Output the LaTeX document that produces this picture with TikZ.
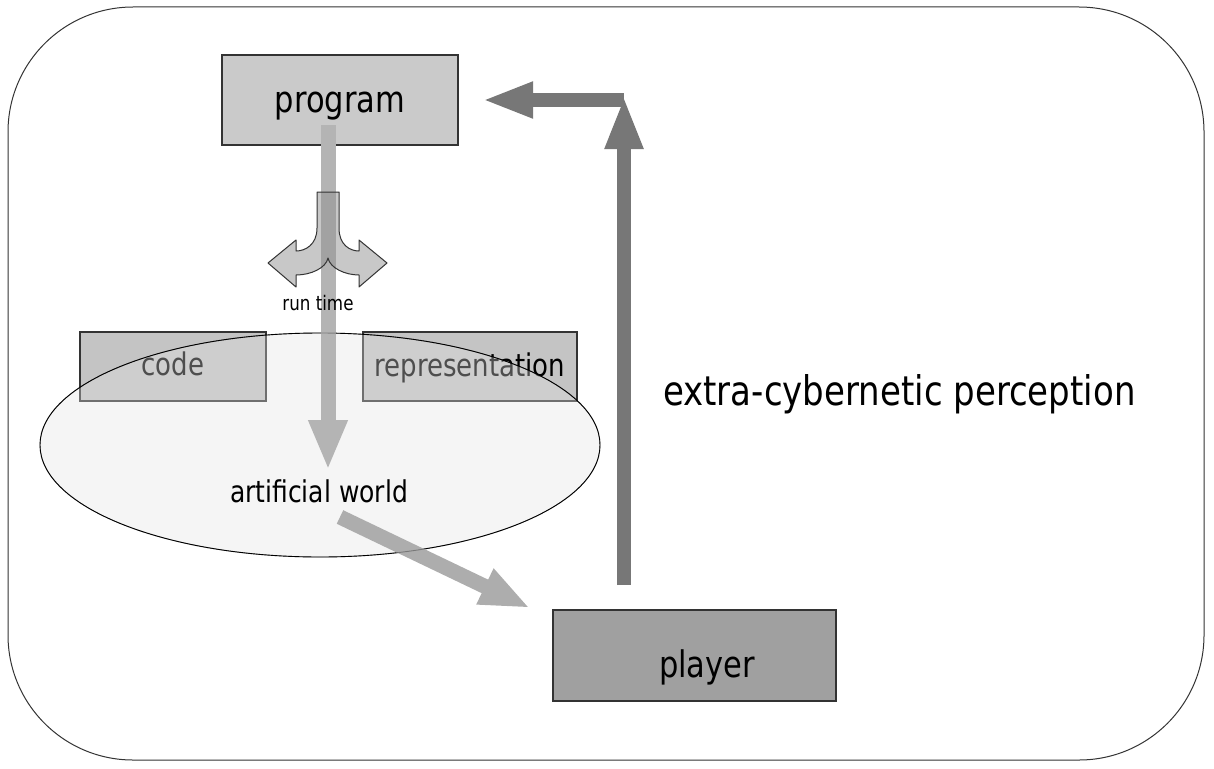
\documentclass[tikz,border=0pt]{standalone}
\usepackage{graphicx}
\usepackage{fontspec}
\setmainfont{DejaVu Sans}
\usetikzlibrary{arrows.meta,shapes.geometric}
\definecolor{boxlight}{HTML}{CACACA}
\definecolor{boxmid}{HTML}{C4C4C4}
\definecolor{boxdark}{HTML}{A0A0A0}
\definecolor{edge}{HTML}{333333}
\definecolor{flowlight}{HTML}{B4B4B4}
\definecolor{flowdark}{HTML}{777777}
\definecolor{splitfill}{HTML}{C8C8C8}
\definecolor{overlapfill}{HTML}{A2A2A2}
\definecolor{worldfill}{HTML}{E1E1E1}

% lettering is set slightly taller than wide
\newcommand\tall[1]{\scalebox{1}[1.2]{#1}}

% outline of the branching "run time" arrow
\newcommand\splitoutline{(317,192) -- (339,192) -- (339,228)
  .. controls (339,245) and (350,251) .. (359,251) -- (359,240) -- (387,263)
  -- (359,287) -- (359,275) .. controls (345,275) and (330,268) .. (328,258)
  .. controls (326,268) and (311,275) .. (296,275) -- (296,287) -- (268,263)
  -- (296,240) -- (296,251) .. controls (305,251) and (317,245) .. (317,228) -- cycle}

\begin{document}
\begin{tikzpicture}[x=1pt,y=-1pt,
  box/.style={draw=edge, line width=1.2pt, rectangle, inner sep=0pt, text depth=0pt},
  bigtext/.style={font=\fontsize{30.5}{36}\selectfont},
  midtext/.style={font=\fontsize{26}{30}\selectfont},
  flowlightarrow/.style={draw=flowlight, line width=15pt, -{Triangle[width=36pt,length=50pt]}},
  flowdarkarrow/.style={draw=flowdark, line width=14pt, -{Triangle[width=35pt,length=53pt]}},
]
\useasboundingbox (0,0) rectangle (1214,768);

% outer frame
\draw[edge, line width=1pt, rounded corners=125pt] (8,7) rectangle (1204,760);

% boxes
\node[box, fill=boxlight, minimum width=236pt, minimum height=90pt, text height=24pt, bigtext]
  (program) at (340,100) {\tall{program}};
\node[box, fill=boxmid, minimum width=186pt, minimum height=69pt, text height=18.5pt, midtext]
  (code) at (173,366.5) {\tall{code}};
\node[box, fill=boxmid, minimum width=214pt, minimum height=69pt, text height=19.5pt, midtext]
  (repr) at (470,366.5) {\tall{representation}};
\node[box, fill=boxdark, minimum width=283pt, minimum height=91pt, text height=43pt, bigtext]
  (player) at (694.5,655.5) {\hspace*{25pt}\tall{player}};

% the artificial world, laid over the two boxes
\node[ellipse, draw=black, line width=0.9pt, fill=worldfill, fill opacity=0.35,
      minimum width=560pt, minimum height=224pt, inner sep=0pt] (world) at (320,445) {};

% branching arrow (fill first, outline last)
\fill[splitfill] \splitoutline;

% program -> artificial world
\coordinate (pwstart) at (328,125);
\coordinate (pwtip) at (328,470);
\draw[flowlightarrow] (pwstart) -- (pwtip);

% darker band where the flow crosses the branching arrow
\begin{scope}
  \clip \splitoutline;
  \fill[overlapfill] (320.5,180) rectangle (335.5,300);
\end{scope}
\draw[edge, line width=1pt, line join=round] \splitoutline;

% artificial world -> player
\coordinate (wpstart) at (340,517);
\coordinate (wptip) at (530,608);
\draw[flowlightarrow, draw=flowlight!96!black] (wpstart) -- (wptip);
\node[ellipse, draw=black, draw opacity=0.3, line width=0.9pt,
      minimum width=560pt, minimum height=224pt, inner sep=0pt] (worldrim) at (world.center) {};

% player -> program (perception loop)
\coordinate (ppstart) at (624,585);
\coordinate (corner) at (624,96);
\coordinate (cornerbar) at (624,100);
\coordinate (pptip) at (482,100);
\draw[flowdarkarrow] (ppstart) -- (corner);
\draw[flowdarkarrow, -{Triangle[width=33pt,length=51pt]}] (cornerbar) -- (pptip);

% labels
\node[anchor=base, inner sep=0pt, font=\fontsize{16.7}{20}\selectfont] (runtime) at (318,310) {\tall{run time}};
\node[anchor=base, inner sep=0pt, font=\fontsize{25}{30}\selectfont] (worldlabel) at (319,502) {\tall{artificial world}};
\node[anchor=base west, inner sep=0pt, font=\fontsize{34}{40}\selectfont] (perception) at (663,405) {\tall{extra-cybernetic perception}};
\end{tikzpicture}
\end{document}
